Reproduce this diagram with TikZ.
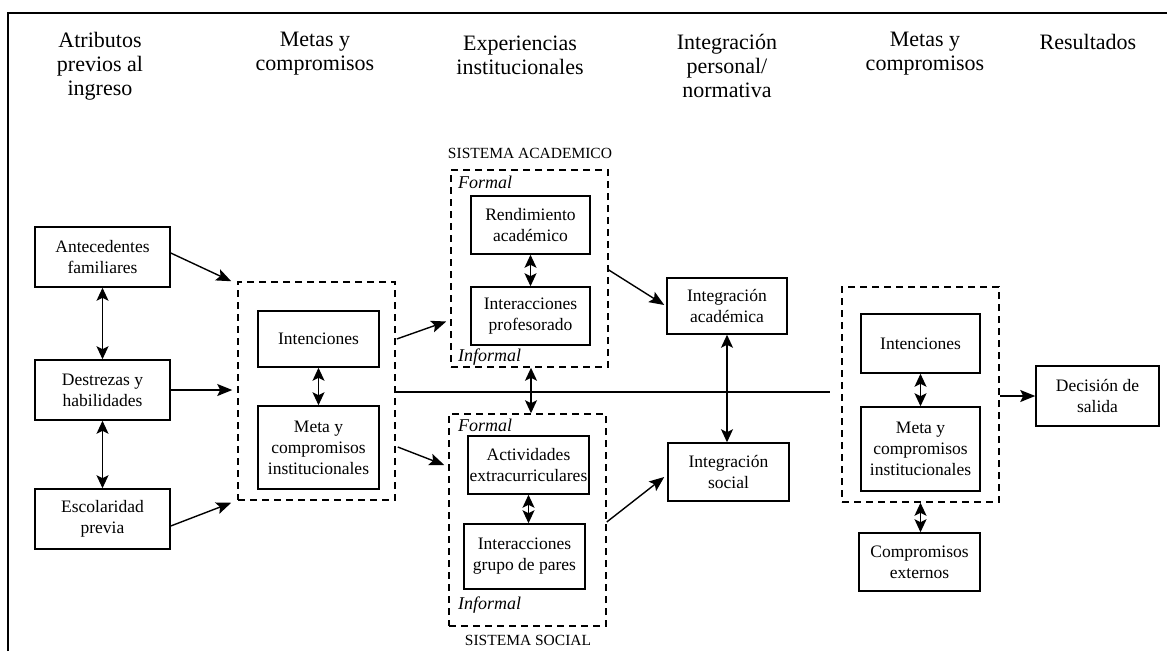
\documentclass[tikz,border=0pt]{standalone}
\usepackage{fontspec}
\setmainfont{Liberation Serif}
\usetikzlibrary{arrows.meta,calc}
\begin{document}
\begin{tikzpicture}[x=1pt,y=-1pt,
  box/.style={draw, line width=1.5pt, inner sep=0pt, align=center, font=\fontsize{17.5}{21}\selectfont},
  grp/.style={draw, dash pattern=on 7pt off 5pt, line width=1.5pt, inner sep=0pt},
  hdr/.style={align=center, inner sep=0pt, font=\fontsize{22}{24}\selectfont},
  sis/.style={inner sep=0pt, font=\fontsize{15.5}{17}\selectfont},
  fml/.style={inner sep=0pt, anchor=west, font=\fontsize{18}{20}\selectfont\itshape},
  arr/.style={-{Stealth[length=15pt,width=12pt,inset=3pt]}, line width=1.4pt},
  dbl/.style={{Stealth[length=13pt,width=12pt,inset=3pt]}-{Stealth[length=13pt,width=12pt,inset=3pt]}, line width=1.4pt},
  ln/.style={line width=1.4pt}
]
\useasboundingbox (0,0) rectangle (1167,651);
% frame
\draw[line width=2pt] (8,651) -- (8,13) -- (1167,13);

% headers
\node[hdr] (h1) at (100,66) {Atributos\\previos al\\ingreso};
\node[hdr] (h2) at (315,54) {Metas y\\compromisos};
\node[hdr] (h3) at (520,55) {Experiencias\\institucionales};
\node[hdr] (h4) at (727,66) {Integración\\personal/\\normativa};
\node[hdr] (h5) at (925,54) {Metas y\\compromisos};
\node[hdr] (h6) at (1088,42) {Resultados};

% column 1
\node[box, minimum width=135pt, minimum height=60pt] (ante) at (102.5,257) {Antecedentes\\familiares};
\node[box, minimum width=135pt, minimum height=60pt] (destr) at (102.5,390) {Destrezas y\\habilidades};
\node[box, minimum width=135pt, minimum height=60pt] (escol) at (102.5,519) {Escolaridad\\previa};

% column 2
\node[grp, minimum width=157pt, minimum height=218pt] (dash1) at (316.5,391) {};
\node[box, minimum width=121pt, minimum height=56pt] (int1) at (318.5,339) {Intenciones};
\node[box, minimum width=121pt, minimum height=83pt] (meta1) at (318.5,447.5) {Meta y\\compromisos\\institucionales};

% column 3
\node[grp, minimum width=157pt, minimum height=197pt] (dashA) at (529.5,268.5) {};
\node[sis] (sa) at (530,153) {SISTEMA ACADEMICO};
\node[fml] (fa) at (458,182) {Formal};
\node[fml] (ia) at (458,357) {Informal};
\node[box, minimum width=119pt, minimum height=58pt] (rend) at (530.5,225) {Rendimiento\\académico};
\node[box, minimum width=119pt, minimum height=58pt] (interP) at (530.5,316) {Interacciones\\profesorado};

\node[grp, minimum width=157pt, minimum height=212pt] (dashS) at (527.5,520) {};
\node[sis] (ss) at (528,640) {SISTEMA SOCIAL};
\node[fml] (fs) at (458,425) {Formal};
\node[fml] (is) at (458,605) {Informal};
\node[box, minimum width=121pt, minimum height=58pt] (activ) at (528.5,465) {Actividades\\extracurriculares};
\node[box, minimum width=121pt, minimum height=65pt] (interG) at (524.5,556.5) {Interacciones\\grupo de pares};

% column 4
\node[box, minimum width=120pt, minimum height=56pt] (intA) at (727,306) {Integración\\académica};
\node[box, minimum width=121pt, minimum height=58pt] (intS) at (728.5,472) {Integración\\social};

% column 5
\node[grp, minimum width=157pt, minimum height=215pt] (dash2) at (920.5,394.5) {};
\node[box, minimum width=119pt, minimum height=59pt] (int2) at (920.5,343.5) {Intenciones};
\node[box, minimum width=119pt, minimum height=84pt] (meta2) at (920.5,449) {Meta y\\compromisos\\institucionales};
\node[box, minimum width=121pt, minimum height=58pt] (comp) at (919.5,562) {Compromisos\\externos};

% column 6
\node[box, minimum width=123pt, minimum height=60pt] (dec) at (1097.5,396) {Decisión de\\salida};

% connectors column 1
\draw[dbl] (ante.south) -- (destr.north);
\draw[dbl] (destr.south) -- (escol.north);
\draw[arr] ($(ante.east)+(0,-4)$) -- ($(dash1.north west)+(-6,0)$);
\draw[arr, shorten >=5pt] (destr.east) -- (destr.east -| dash1.west);
\draw[arr] ($(escol.east)+(0,7)$) -- ($(dash1.south west)+(-6,2)$);

% column 2
\draw[dbl] (int1.south) -- (meta1.north);
\draw[arr] ($(dash1.east)+(1,-52)$) -- ($(dashA.west)+(-4,53)$);
\draw[arr] ($(dash1.east)+(2,56)$) -- ($(dashS.west)+(-4,-55)$);
\draw[ln] ($(dash1.east)+(0,1)$) -- ($(dash2.west)+(-11,-2.5)$);

% column 3
\draw[dbl] (rend.south) -- (interP.north);
\draw[dbl] (activ.south) -- (activ.south |- interG.north);
\draw[dbl] ($(dashA.south)+(1.5,0)$) -- ($(dashA.south |- dashS.north)+(1.5,0)$);
\draw[arr] ($(dashA.east)+(0,1.5)$) -- ($(intA.west)+(-2,-1)$);
\draw[arr] ($(dashS.east)+(0,2)$) -- ($(intS.west)+(-3,5)$);

% column 4
\draw[dbl] (intA.south) -- (intA.south |- intS.north);

% column 5
\draw[dbl] (int2.south) -- (meta2.north);
\draw[dbl] (dash2.south) -- (dash2.south |- comp.north);
\draw[arr] (dash2.east |- dec.west) -- (dec.west);
\end{tikzpicture}
\end{document}
